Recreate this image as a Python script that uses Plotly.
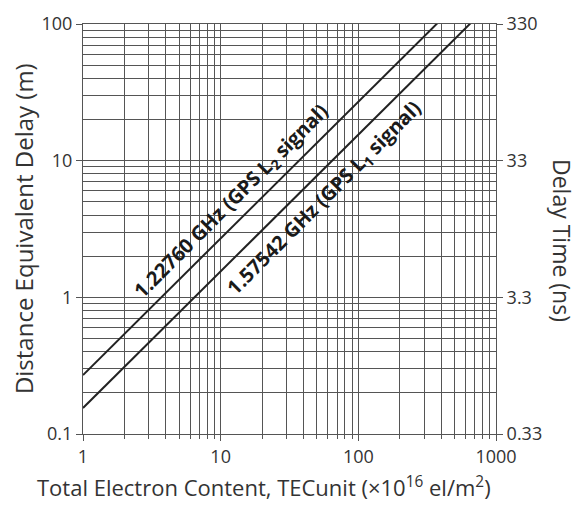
import plotly.graph_objects as go
import math

tec = [1, 1000]
l2_delay = [0.27, 270]
l1_delay = [0.155, 155]
x_ticks = [1, 10, 100, 1000]
y_ticks = [0.1, 1, 10, 100]
y2_ticks = [0.33, 3.3, 33, 330]
y2_labels = ["0.33", "3.3", "33", "330"]
l2_label = "<b>1.22760 GHz (GPS L<sub>2</sub> signal)</b>"
l1_label = "<b>1.57542 GHz (GPS L<sub>1</sub> signal)</b>"
x_title = "Total Electron Content, TECunit (×10<sup>16</sup> el/m<sup>2</sup>)"
y_title = "Distance Equivalent Delay (m)"
y2_title = "Delay Time (ns)"

FONT = "Open Sans"
GRID = "#555555"
TXT = "#333333"

def minors(lo, hi):
    out = []
    d = lo
    while d < hi * 0.999:
        out += [d * k for k in range(2, 10)]
        d *= 10
    return out

fig = go.Figure()
fig.add_trace(go.Scatter(x=tec, y=l2_delay, mode="lines", line=dict(color="#222", width=2), showlegend=False))
fig.add_trace(go.Scatter(x=tec, y=l1_delay, mode="lines", line=dict(color="#222", width=2), showlegend=False))
fig.add_trace(go.Scatter(x=tec, y=[0.33, 330], mode="lines", line=dict(width=0), yaxis="y2", showlegend=False, hoverinfo="skip"))

fig.update_layout(
    width=577, height=506,
    margin=dict(l=83, r=81, t=24, b=72),
    plot_bgcolor="white", paper_bgcolor="white",
    font=dict(family=FONT, size=18, color=TXT),
    xaxis=dict(
        type="log", range=[0, 3], tickvals=x_ticks, ticktext=["1", "10", "100", "1000"],
        showgrid=True, gridcolor=GRID, gridwidth=1.2,
        minor=dict(tickvals=minors(1, 1000), showgrid=True, gridcolor=GRID, gridwidth=1.2, ticks="outside", ticklen=4, tickcolor=GRID),
        ticks="outside", ticklen=6, tickcolor=GRID, showline=True, linecolor=GRID, linewidth=1.2, mirror=True,
        zeroline=False,
    ),
    yaxis=dict(
        type="log", range=[-1, 2], tickvals=y_ticks, ticktext=["0.1", "1", "10", "100"],
        showgrid=True, gridcolor=GRID, gridwidth=1.2,
        minor=dict(tickvals=minors(0.1, 100), showgrid=True, gridcolor=GRID, gridwidth=1.2),
        ticks="outside", ticklen=6, tickcolor=GRID, showline=True, linecolor=GRID, linewidth=1.2, mirror=True,
        zeroline=False,
    ),
    yaxis2=dict(
        type="log", range=[math.log10(0.33), math.log10(330)], overlaying="y", side="right",
        tickvals=y2_ticks, ticktext=y2_labels, showgrid=False,
        ticks="outside", ticklen=6, tickcolor=GRID,
        zeroline=False,
    ),
)

# axis titles
fig.add_annotation(x=0.438, y=-0.1707, xref="paper", yref="paper", text=x_title, showarrow=False,
                   xanchor="center", yanchor="bottom", font=dict(size=22, color=TXT, family=FONT))
fig.add_annotation(x=-0.145, y=0.5, xref="paper", yref="paper", text=y_title, showarrow=False, textangle=-90,
                   xanchor="center", yanchor="middle", font=dict(size=24, color=TXT, family=FONT))
fig.add_annotation(x=1.16, y=0.473, xref="paper", yref="paper", text=y2_title, showarrow=False, textangle=90,
                   xanchor="center", yanchor="middle", font=dict(size=23, color=TXT, family=FONT))

# line labels
fig.add_annotation(x=math.log10(11.9), y=math.log10(5.06), xref="x", yref="y", text=l2_label,
                   textangle=-45, showarrow=False, font=dict(size=20, color="#1a1a1a", family=FONT))
fig.add_annotation(x=math.log10(56.2), y=math.log10(5.33), xref="x", yref="y", text=l1_label,
                   textangle=-45, showarrow=False, font=dict(size=20, color="#1a1a1a", family=FONT))

fig.write_html("out.html")
